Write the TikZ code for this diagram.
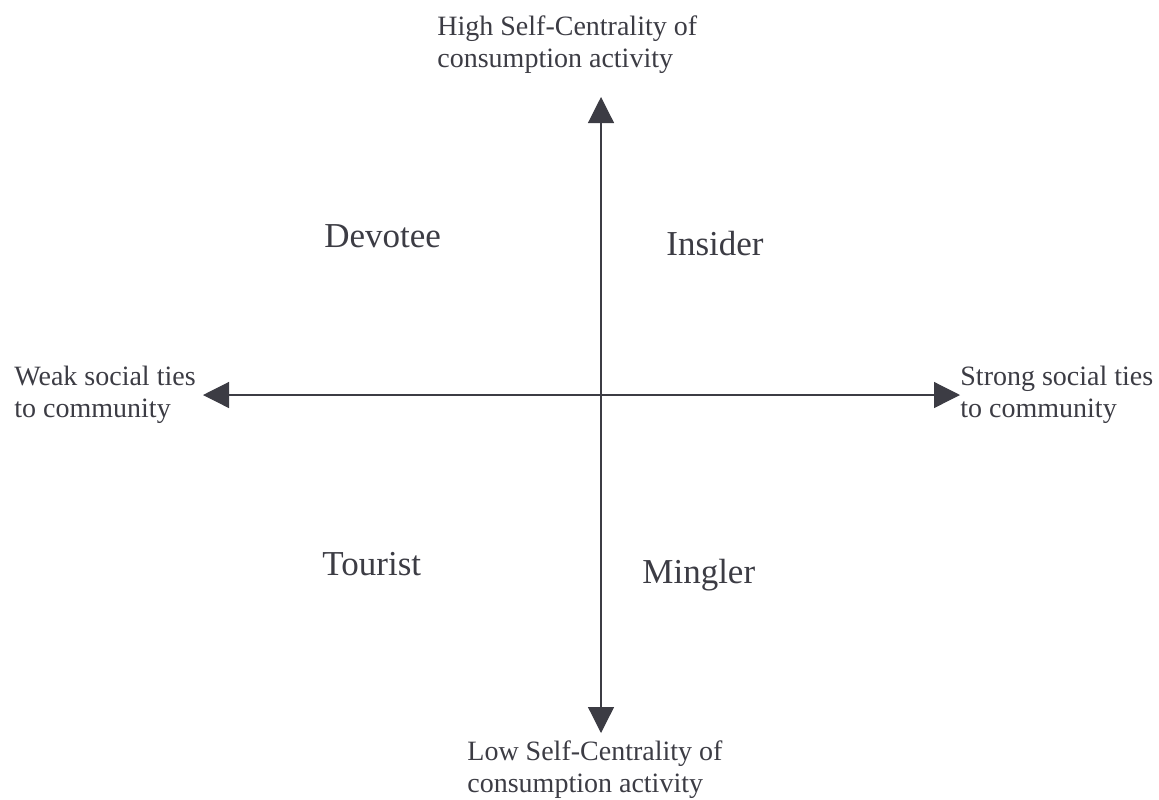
\documentclass[tikz,border=0pt]{standalone}
\usepackage{fontspec}
\setmainfont{Liberation Serif}
\usetikzlibrary{arrows.meta}
\definecolor{inkgray}{HTML}{3C3C44}
\begin{document}
\begin{tikzpicture}[x=0.5pt,y=-0.5pt,
    axis/.style={draw=inkgray,line width=0.6pt,
        {Triangle[length=13pt,width=13pt]}-{Triangle[length=13pt,width=13pt]}},
    endlabel/.style={anchor=base west,inner sep=0pt,align=left,text=inkgray,
        font=\fontsize{14}{16}\selectfont},
    quadlabel/.style={anchor=base west,inner sep=0pt,text=inkgray,
        font=\fontsize{17.5}{20}\selectfont}]
    \useasboundingbox (0,0) rectangle (1159,799);

    \coordinate (west) at (203,395);
    \coordinate (east) at (960,395);
    \coordinate (north) at (601,97);
    \coordinate (south) at (601,733);
    \draw[axis] (west) -- (east);
    \draw[axis] (north) -- (south);

    \node[endlabel] (high) at (437,67) {High Self-Centrality of\\consumption activity};
    \node[endlabel] (low) at (467,792) {Low Self-Centrality of\\consumption activity};
    \node[endlabel] (weak) at (14,417) {Weak social ties\\to community};
    \node[endlabel] (strong) at (960,417) {Strong social ties\\to community};

    \node[quadlabel] (devotee) at (324,247) {Devotee};
    \node[quadlabel] (insider) at (666,255) {Insider};
    \node[quadlabel] (tourist) at (322,575) {Tourist};
    \node[quadlabel] (mingler) at (642,583) {Mingler};
\end{tikzpicture}
\end{document}
